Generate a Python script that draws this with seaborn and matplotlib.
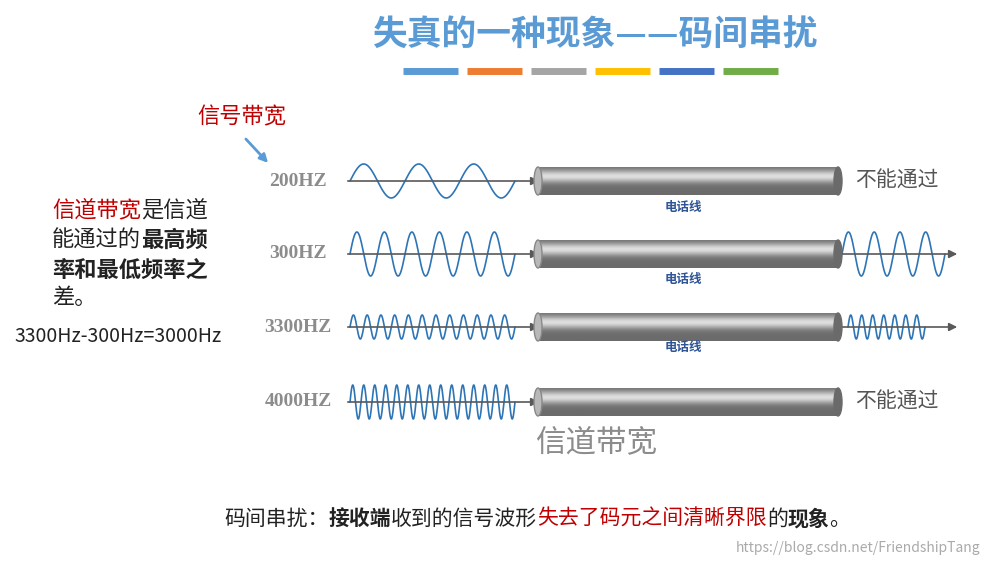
import numpy as np
import pandas as pd
import seaborn as sns
import matplotlib.pyplot as plt
from matplotlib.patches import Ellipse

sns.set_theme(style="white")
plt.rcParams['font.family'] = ['Noto Sans CJK SC', 'DejaVu Sans']

# data
freq_labels = ["200HZ", "300HZ", "3300HZ", "4000HZ"]
row_y = [181, 254, 327, 402]
left_cycles = [3, 6, 12, 15]
left_amp = [17, 22, 12, 17]
passes = [False, True, True, False]
right_cycles = [0, 4, 7, 0]
right_span = [(0, 0), (842, 945), (848, 925), (0, 0)]
wire_label_y = [208, 280, 348, None]
bar_colors = ["#5b9bd5", "#ed7d31", "#a5a5a5", "#ffc000", "#4472c4", "#70ad47"]

fig = plt.figure(figsize=(9.94, 5.66), dpi=100)
ax = fig.add_axes([0, 0, 1, 1])
ax.set_xlim(0, 994)
ax.set_ylim(566, 0)
ax.axis("off")

blue = "#2e75b6"
ax.text(595, 35, "失真的一种现象——码间串扰", fontsize=25, color="#5b9bd5",
        fontweight="bold", ha="center", va="center")
for i, c in enumerate(bar_colors):
    x0 = 403 + i * 64
    ax.plot([x0, x0 + 55], [71, 71], color=c, lw=5, solid_capstyle="butt")

ax.text(242, 117, "信号带宽", fontsize=16, color="#c00000", ha="center", va="center")
ax.annotate("", xy=(270, 165), xytext=(244, 137),
            arrowprops=dict(arrowstyle="-|>", color="#5b9bd5", lw=2))


def rich(x, y, parts, size):
    r = fig.canvas.get_renderer()
    inv = ax.transData.inverted()
    for s, col, bold in parts:
        t = ax.text(x, y, s, fontsize=size, color=col, va="center",
                    fontweight="bold" if bold else "normal")
        bb = t.get_window_extent(renderer=r)
        x = inv.transform((bb.x1, bb.y0))[0]


rich(52, 210, [("信道带宽", "#c00000", False), ("是信道", "#222222", False)], 16)
rich(52, 240, [("能通过的", "#222222", False), ("最高频", "#222222", True)], 16)
rich(52, 270, [("率和最低频率之", "#222222", True)], 16)
rich(52, 298, [("差。", "#222222", False)], 16)
ax.text(14, 337, "3300Hz-300Hz=3000Hz", fontsize=14, color="#222222", va="center")

rich(224, 519, [("码间串扰：", "#222222", False), ("接收端", "#222222", True),
                ("收到的信号波形", "#222222", False),
                ("失去了码元之间清晰界限", "#c00000", False), ("的", "#222222", False),
                ("现象", "#222222", True), ("。", "#222222", False)], 15)
ax.text(858, 548, "https://blog.csdn.net/FriendshipTang", fontsize=10,
        color="#aaaaaa", ha="center", va="center")

g = np.linspace(-1, 1, 60)
grad = (0.42 + 0.45 * np.exp(-((g + 0.35) / 0.45) ** 2)).reshape(-1, 1)
for i, y in enumerate(row_y):
    ax.text(298, y, freq_labels[i], fontsize=14, color="#8c8c8c", fontweight="bold",
            family="Liberation Serif", ha="center", va="center")
    # left wave
    x = np.linspace(350, 515, 600)
    df = pd.DataFrame({"x": x, "y": y - left_amp[i] * np.sin(2 * np.pi * left_cycles[i] * (x - 350) / 165)})
    sns.lineplot(data=df, x="x", y="y", ax=ax, color=blue, lw=1.2, sort=False, legend=False)
    ax.annotate("", xy=(542, y), xytext=(345, y),
                arrowprops=dict(arrowstyle="-|>", color="#595959", lw=1.2))
    # tube
    ax.imshow(grad, cmap="gray", vmin=0, vmax=1, aspect="auto", interpolation="bilinear",
              extent=[538, 838, y + 14, y - 14], zorder=3)
    ax.add_patch(Ellipse((838, y), 8, 28, color="#6a6a6a", zorder=3))
    ax.add_patch(Ellipse((538, y), 8, 28, facecolor="#b8b8b8", edgecolor="#888888", zorder=4))
    if wire_label_y[i]:
        ax.text(683, wire_label_y[i], "电话线", fontsize=9, color="#2f5597",
                fontweight="bold", ha="center", va="center")
    if passes[i]:
        a, b = right_span[i]
        xr = np.linspace(a, b, 400)
        dr = pd.DataFrame({"x": xr, "y": y - left_amp[i] * np.sin(2 * np.pi * right_cycles[i] * (xr - a) / (b - a))})
        sns.lineplot(data=dr, x="x", y="y", ax=ax, color=blue, lw=1.2, sort=False, legend=False)
        ax.annotate("", xy=(960, y), xytext=(840, y),
                    arrowprops=dict(arrowstyle="-|>", color="#595959", lw=1.2))
    else:
        ax.text(855, y, "不能通过", fontsize=15, color="#555555", va="center")

ax.text(596, 443, "信道带宽", fontsize=22, color="#8c8c8c", ha="center", va="center")
ax.set_xlim(0, 994)
ax.set_ylim(566, 0)
fig.savefig("out.png", dpi=100)
